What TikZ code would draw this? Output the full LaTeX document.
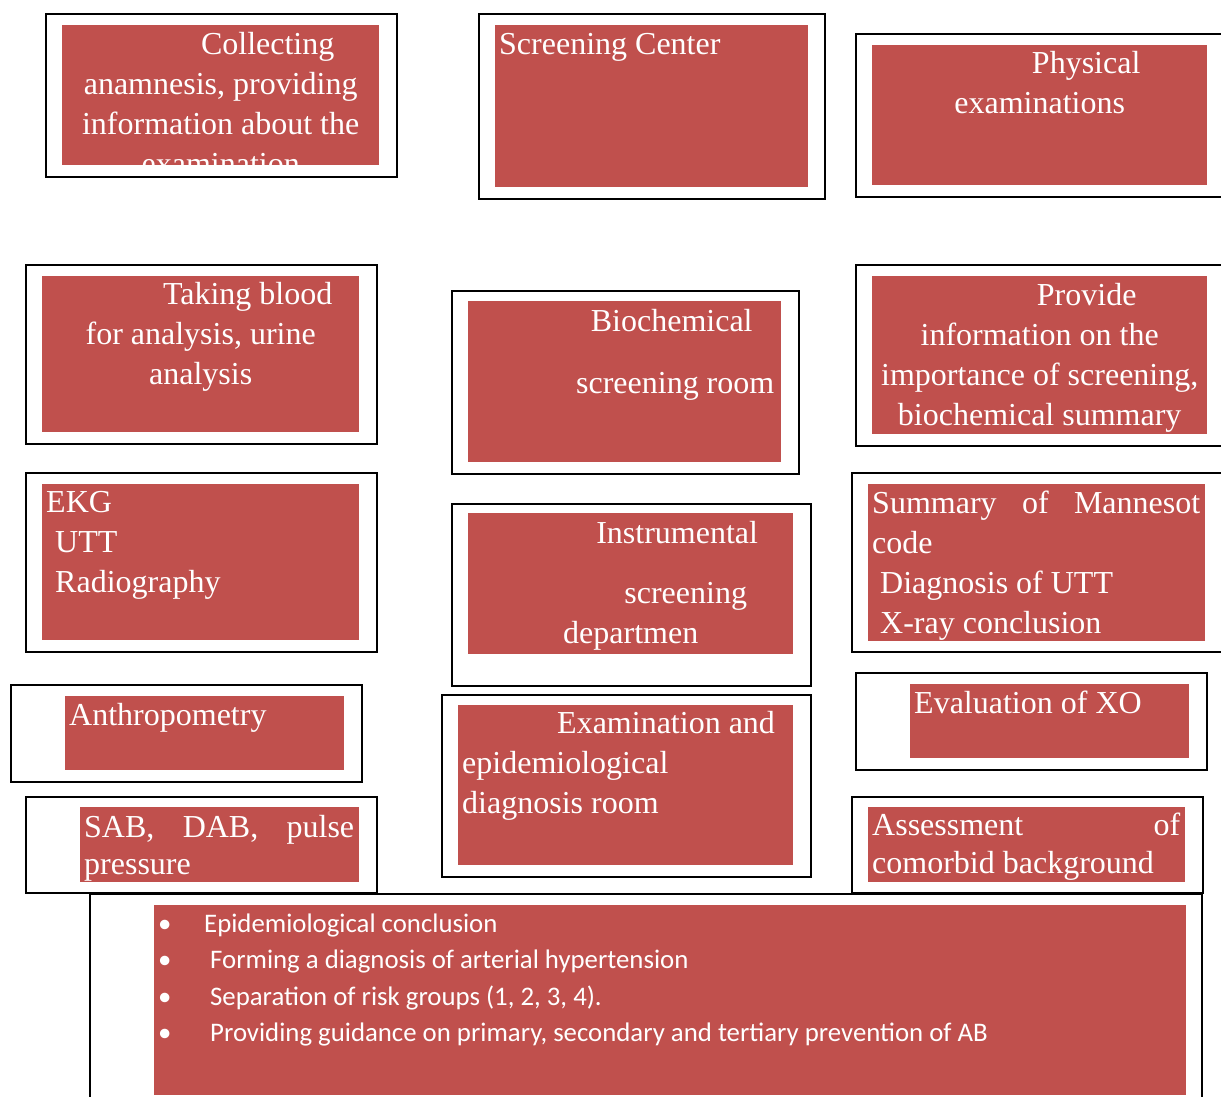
\documentclass[tikz,border=0pt]{standalone}
\usepackage{fontspec}
\setmainfont{Liberation Serif}
\newfontfamily\calibrifont{Carlito}
\usepackage{tikz}
\usetikzlibrary{positioning, calc}
\usepackage{xcolor}
\definecolor{cellred}{RGB}{192,80,77}
\newcommand{\boxfont}{\fontsize{32}{40}\selectfont}
\newcommand{\listfont}{\calibrifont\fontsize{26.8}{36.5}\selectfont}

\begin{document}
\begin{tikzpicture}[
    x=1pt, y=-1pt,
    frame/.style = {rectangle, draw=black, line width=2pt, anchor=north west, inner sep=0pt},
    cell/.style = {rectangle, fill=cellred, anchor=north west, inner sep=0pt},
    celltext/.style = {anchor=base west, inner xsep=4pt, inner ysep=0pt, text=white, font=\boxfont},
    centred/.style = {celltext, align=flush center},
    lefted/.style = {celltext, align=flush left}
]
\useasboundingbox (0,0) rectangle (1221,1097);
\clip (0,0) rectangle (1221,1097);

% Outer frames
\node (frame_collect) [frame, minimum width=351pt, minimum height=163pt, at={(45,13)}] {};
\node (frame_screen) [frame, minimum width=346pt, minimum height=185pt, at={(478,13)}] {};
\node (frame_phys) [frame, minimum width=375pt, minimum height=163pt, at={(855,33)}] {};
\node (frame_blood) [frame, minimum width=351pt, minimum height=179pt, at={(25,264)}] {};
\node (frame_biochem) [frame, minimum width=347pt, minimum height=183pt, at={(451,290)}] {};
\node (frame_info) [frame, minimum width=375pt, minimum height=181pt, at={(855,264)}] {};
\node (frame_ekg) [frame, minimum width=351pt, minimum height=179pt, at={(25,472)}] {};
\node (frame_instr) [frame, minimum width=359pt, minimum height=182pt, at={(451,503)}] {};
\node (frame_summary) [frame, minimum width=379pt, minimum height=179pt, at={(851,472)}] {};
\node (frame_anthro) [frame, minimum width=351pt, minimum height=97pt, at={(10,684)}] {};
\node (frame_exam) [frame, minimum width=369pt, minimum height=182pt, at={(441,694)}] {};
\node (frame_xo) [frame, minimum width=351pt, minimum height=97pt, at={(855,672)}] {};
\node (frame_pressure) [frame, minimum width=351pt, minimum height=96pt, at={(25,796)}] {};
\node (frame_comorbid) [frame, minimum width=351pt, minimum height=96pt, at={(851,796)}] {};
\node (frame_prevent) [frame, minimum width=1112pt, minimum height=215pt, at={(89,893)}] {};

% Red cells
\node (cell_collect) [cell, minimum width=317pt, minimum height=140pt, at={(62,25)}] {};
\node (cell_screen) [cell, minimum width=313pt, minimum height=162pt, at={(495,25)}] {};
\node (cell_phys) [cell, minimum width=335pt, minimum height=140pt, at={(872,45)}] {};
\node (cell_blood) [cell, minimum width=317pt, minimum height=156pt, at={(42,276)}] {};
\node (cell_biochem) [cell, minimum width=313pt, minimum height=161pt, at={(468,301)}] {};
\node (cell_info) [cell, minimum width=335pt, minimum height=158pt, at={(872,276)}] {};
\node (cell_ekg) [cell, minimum width=317pt, minimum height=156pt, at={(42,484)}] {};
\node (cell_instr) [cell, minimum width=325pt, minimum height=141pt, at={(468,513)}] {};
\node (cell_summary) [cell, minimum width=337pt, minimum height=157pt, at={(868,484)}] {};
\node (cell_anthro) [cell, minimum width=279pt, minimum height=74pt, at={(65,696)}] {};
\node (cell_exam) [cell, minimum width=335pt, minimum height=160pt, at={(458,705)}] {};
\node (cell_xo) [cell, minimum width=279pt, minimum height=74pt, at={(910,684)}] {};
\node (cell_pressure) [cell, minimum width=279pt, minimum height=75pt, at={(80,807)}] {};
\node (cell_comorbid) [cell, minimum width=317pt, minimum height=75pt, at={(868,807)}] {};
\node (cell_prevent) [cell, minimum width=1032pt, minimum height=190pt, at={(154,905)}] {};

% Row 1
\begin{scope}
\clip (cell_collect.north west) rectangle (cell_collect.south east);
\node (text_collect) [centred, text width=309pt, at={($(cell_collect.north west)+(0,30)$)}] {\hspace*{94pt}Collecting\\anamnesis, providing\\information about the\\examination};
\end{scope}
\node (text_screen) [lefted, text width=305pt, at={($(cell_screen.north west)+(0,30)$)}] {Screening Center};
\node (text_phys) [centred, text width=327pt, at={($(cell_phys.north west)+(0,29)$)}] {\hspace*{93pt}Physical\\examinations};

% Row 2
\node (text_blood) [centred, text width=309pt, at={($(cell_blood.north west)+(0,28)$)}] {\hspace*{94pt}Taking blood\\for analysis, urine\\analysis};
\node (text_biochem) [centred, text width=305pt, at={($(cell_biochem.north west)+(0,30)$)}] {\hspace*{94pt}Biochemical\\[22pt]\hspace*{101pt}screening room};
\node (text_info) [centred, text width=327pt, at={($(cell_info.north west)+(0,29)$)}] {\hspace*{94pt}Provide\\information on the\\importance of screening,\\biochemical summary};

% Row 3
\node (text_ekg) [lefted, text width=309pt, at={($(cell_ekg.north west)+(0,28)$)}] {EKG\\\hspace*{9pt}UTT\\\hspace*{9pt}Radiography};
\node (text_instr) [centred, text width=317pt, at={($(cell_instr.north west)+(0,30)$)}] {\hspace*{93pt}Instrumental\\[20pt]\hspace*{110pt}screening\\departmen};
\node (text_summary) [lefted, text width=328pt, at={($(cell_summary.north west)+(0,29)$)}] {Summary\hfill of\hfill Mannesot\\code\\\hspace*{8pt}Diagnosis of UTT\\\hspace*{8pt}X-ray conclusion};

% Row 4
\node (text_anthro) [lefted, text width=271pt, at={($(cell_anthro.north west)+(0,29)$)}] {Anthropometry};
\node (text_exam) [lefted, text width=327pt, at={($(cell_exam.north west)+(0,28)$)}] {\hspace*{95pt}Examination and\\epidemiological\\diagnosis room};
\node (text_xo) [lefted, text width=271pt, at={($(cell_xo.north west)+(0,29)$)}] {Evaluation of XO};

% Row 5
\node (text_pressure) [lefted, text width=270pt, at={($(cell_pressure.north west)+(0,30)$)}] {SAB,\hfill DAB,\hfill pulse\\[-3pt]pressure};
\node (text_comorbid) [lefted, text width=308pt, at={($(cell_comorbid.north west)+(0,28)$)}] {Assessment\hfill of\\[-2pt]comorbid background};

% Bottom list
\node (text_prevent) [lefted, font=\listfont, text width=1024pt, at={($(cell_prevent.north west)+(0,27)$)}] {\makebox[46pt][l]{\textbullet}Epidemiological conclusion\\
\makebox[52pt][l]{\textbullet}Forming a diagnosis of arterial hypertension\\
\makebox[52pt][l]{\textbullet}Separation of risk groups (1, 2, 3, 4).\\
\makebox[52pt][l]{\textbullet}Providing guidance on primary, secondary and tertiary prevention of AB};

\end{tikzpicture}
\end{document}
